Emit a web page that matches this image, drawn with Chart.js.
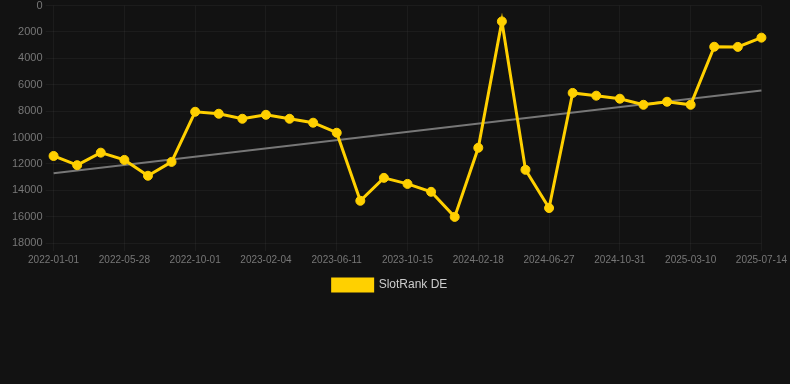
<!DOCTYPE html>
<html>
<head>
<meta charset="utf-8">
<script src="https://cdn.jsdelivr.net/npm/chart.js@4"></script>
<style>
  html, body { margin: 0; padding: 0; background: #121212; overflow: hidden; }
  #wrap { position: relative; top: -4px; width: 790px; height: 305px; }
</style>
</head>
<body>
<div id="wrap"><canvas id="chart"></canvas></div>
<script>
// dates on the x axis (only every third one shows)
const dates = [
  '2022-01-01', '2022-02-19', '2022-04-09', '2022-05-28', '2022-07-09', '2022-08-20',
  '2022-10-01', '2022-11-12', '2022-12-24', '2023-02-04', '2023-03-18', '2023-04-30',
  '2023-06-11', '2023-07-23', '2023-09-03', '2023-10-15', '2023-11-26', '2024-01-07',
  '2024-02-18', '2024-04-01', '2024-05-14', '2024-06-27', '2024-08-08', '2024-09-19',
  '2024-10-31', '2024-12-14', '2025-01-26', '2025-03-10', '2025-04-21', '2025-06-02',
  '2025-07-14'
];

// rank values for SlotRank DE
const rankDE = [
  11400, 12100, 11150, 11700, 12900, 11850,
  8050, 8200, 8580, 8280, 8580, 8880,
  9640, 14800, 13060, 13520, 14120, 16020,
  10780, 1200, 12450, 15350, 6620, 6830,
  7060, 7520, 7290, 7520, 3120, 3130,
  2430
];

// trend line: only the two end values, joined across the gaps
const trend = [12720].concat(new Array(29).fill(null), [6430]);

const yTicks = { min: 0, max: 18000, step: 2000 };

document.addEventListener('DOMContentLoaded', function() {
    const ctx = document.getElementById('chart').getContext('2d');
    Chart.defaults.font.family = '"Liberation Sans", Arial, sans-serif';

    new Chart(ctx, {
        type: 'line',
        data: {
            labels: dates,
            datasets: [{
                label: 'SlotRank DE',
                data: rankDE,
                borderColor: '#ffd000',
                backgroundColor: '#ffd000',
                borderWidth: 3,
                pointRadius: 4.5,
                pointBorderWidth: 1,
                pointHoverRadius: 5,
                tension: 0,
                order: 1
            }, {
                label: 'trend',
                data: trend,
                borderColor: '#777777',
                borderWidth: 2,
                pointRadius: 0,
                spanGaps: true,
                order: 2
            }]
        },
        options: {
            responsive: true,
            maintainAspectRatio: false,
            animation: false,
            layout: { padding: { left: 9, right: 19, top: 0 } },
            scales: {
                x: {
                    grid: { color: 'rgba(255,255,255,0.045)' },
                    border: { display: false },
                    ticks: {
                        color: '#777',
                        font: { size: 10 },
                        maxRotation: 0,
                        autoSkip: false,
                        callback: function(v, i) { return i % 3 === 0 ? dates[i] : null; }
                    }
                },
                y: {
                    reverse: true,
                    min: yTicks.min,
                    max: yTicks.max,
                    grid: { color: 'rgba(255,255,255,0.045)' },
                    border: { display: false },
                    ticks: {
                        stepSize: yTicks.step,
                        color: '#777',
                        font: { size: 11 },
                        callback: function(v) { return String(v); }
                    }
                }
            },
            plugins: {
                legend: {
                    position: 'bottom',
                    labels: {
                        color: '#ccc',
                        boxWidth: 40,
                        boxHeight: 12,
                        font: { size: 12 },
                        filter: function(item) { return item.text !== 'trend'; }
                    }
                },
                tooltip: { enabled: false }
            }
        }
    });
});
</script>
</body>
</html>
